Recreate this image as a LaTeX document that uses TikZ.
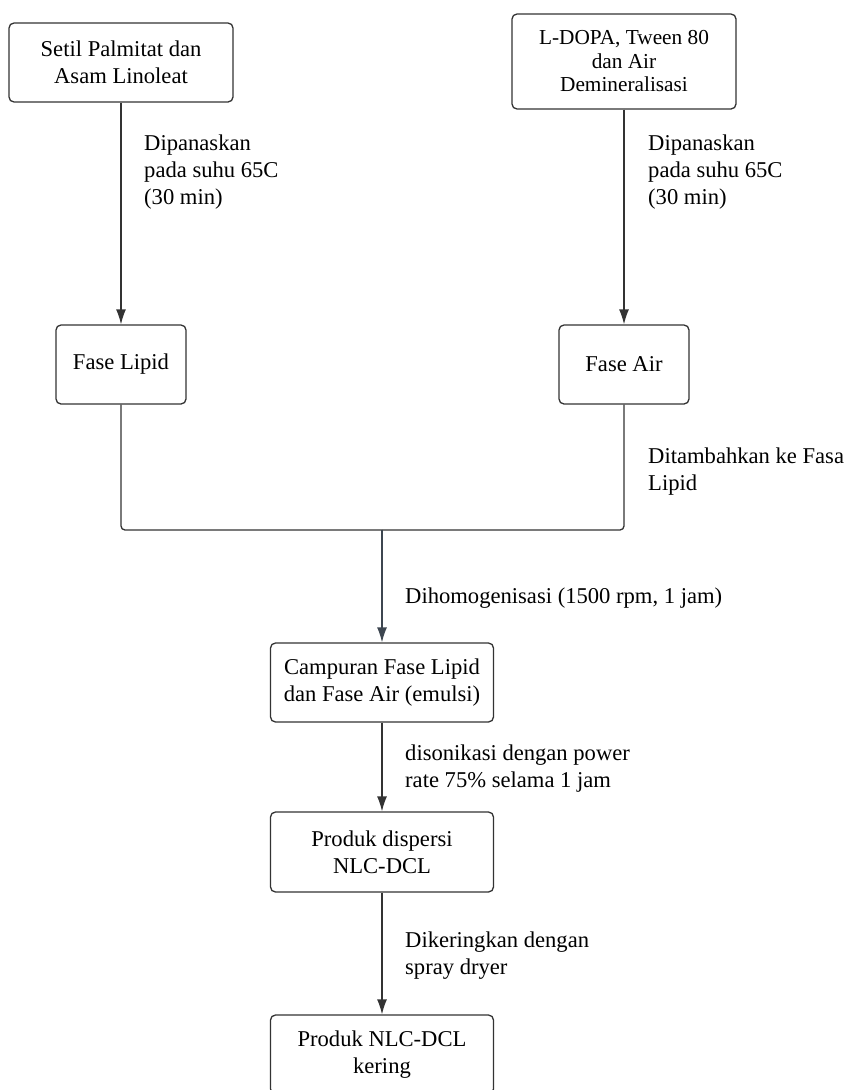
\documentclass[tikz,border=0pt]{standalone}
\usepackage{fontspec}
\setmainfont{Liberation Serif}
\usetikzlibrary{arrows.meta}
\definecolor{ln}{HTML}{333333}
\definecolor{slate}{HTML}{3D4650}
\tikzset{
  x=1pt, y=-1pt,
  box/.style={draw=ln, line width=1.3pt, rounded corners=5pt, inner sep=0pt, align=center,
    font=\fontsize{22.6}{27}\selectfont},
  lbl/.style={anchor=north west, inner sep=0pt, align=left, font=\fontsize{22.6}{27}\selectfont},
  arr/.style={draw=ln, line width=1.3pt, -{Latex[length=15pt,width=10pt]}},
  conn/.style={draw=ln, line width=1.3pt, rounded corners=4pt}
}
\begin{document}
\begin{tikzpicture}
\useasboundingbox[fill=white] (0,0) rectangle (846,1090);
\begin{scope}
\clip (0,0) rectangle (846,1090);
% boxes
\node[box, minimum width=224pt, minimum height=79pt] (a) at (121,62.5) {Setil Palmitat dan\\Asam Linoleat};
\node[box, minimum width=224pt, minimum height=95pt, font=\fontsize{21.3}{23.5}\selectfont] (b) at (624,61.5) {L-DOPA, Tween 80\\dan Air\\Demineralisasi};
\node[box, minimum width=130pt, minimum height=79pt] (fl) at (121,364.5) {Fase Lipid};
\node[box, minimum width=130pt, minimum height=79pt] (fa) at (624,364.5) {Fase Air};
\node[box, minimum width=223pt, minimum height=79pt] (c) at (382,682.5) {Campuran Fase Lipid\\dan Fase Air (emulsi)};
\node[box, minimum width=223pt, minimum height=80pt] (d) at (382,852) {Produk dispersi\\NLC-DCL};
\node[box, minimum width=223pt, minimum height=79pt] (e) at (382,1054.5) {Produk NLC-DCL\\kering};
\coordinate (j) at (382,530);
% connectors
\draw[arr] (a.south) -- (fl.north);
\draw[arr] (b.south) -- (fa.north);
\draw[conn] (fl.south) |- (j);
\draw[conn] (fa.south) |- (j);
\draw[arr, draw=slate] (j) -- (c.north);
\draw[arr] (c.south) -- (d.north);
\draw[arr] (d.south) -- (e.north);
% labels
\node[lbl] (l1) at (144,135) {Dipanaskan\\pada suhu 65C\\(30 min)};
\node[lbl] (l2) at (648,135) {Dipanaskan\\pada suhu 65C\\(30 min)};
\node[lbl] (l3) at (648,448) {Ditambahkan ke Fasa\\Lipid};
\node[lbl] (l4) at (405,588) {Dihomogenisasi (1500 rpm, 1 jam)};
\node[lbl] (l5) at (405,745) {disonikasi dengan power\\rate 75\% selama 1 jam};
\node[lbl] (l6) at (405,932) {Dikeringkan dengan\\spray dryer};
\end{scope}
\end{tikzpicture}
\end{document}
